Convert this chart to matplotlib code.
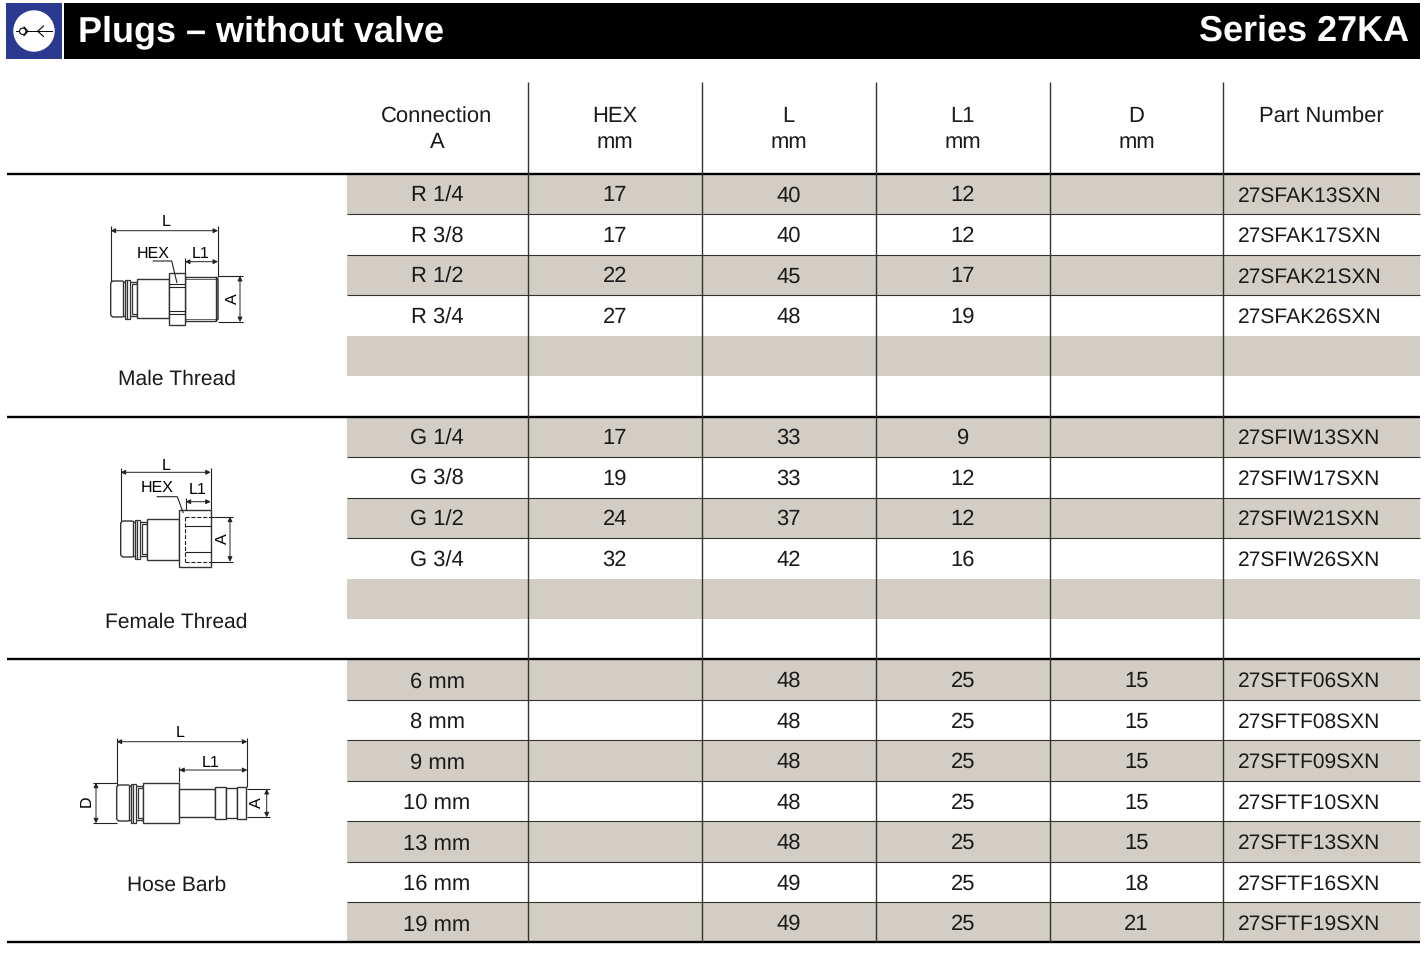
import matplotlib
matplotlib.use('Agg')
import matplotlib.pyplot as plt
from matplotlib.patches import Rectangle, Circle, FancyBboxPatch

plt.rcParams['font.family'] = ['Liberation Sans', 'DejaVu Sans']
plt.rcParams['text.hinting'] = 'no_hinting'
plt.rcParams['text.hinting_factor'] = 1

title = 'Plugs – without valve'
series_name = 'Series 27KA'
headers = ['Connection\nA', 'HEX\nmm', 'L\nmm', 'L1\nmm', 'D\nmm', 'Part Number\n']
sections = ['Male Thread', 'Female Thread', 'Hose Barb']

connection = ['R 1/4', 'R 3/8', 'R 1/2', 'R 3/4', '', '',
              'G 1/4', 'G 3/8', 'G 1/2', 'G 3/4', '', '',
              '6 mm', '8 mm', '9 mm', '10 mm', '13 mm', '16 mm', '19 mm']
hex_mm = ['17', '17', '22', '27', '', '',
          '17', '19', '24', '32', '', '',
          '', '', '', '', '', '', '']
l_mm = ['40', '40', '45', '48', '', '',
        '33', '33', '37', '42', '', '',
        '48', '48', '48', '48', '48', '49', '49']
l1_mm = ['12', '12', '17', '19', '', '',
         '9', '12', '12', '16', '', '',
         '25', '25', '25', '25', '25', '25', '25']
d_mm = ['', '', '', '', '', '',
        '', '', '', '', '', '',
        '15', '15', '15', '15', '15', '18', '21']
part_no = ['27SFAK13SXN', '27SFAK17SXN', '27SFAK21SXN', '27SFAK26SXN', '', '',
           '27SFIW13SXN', '27SFIW17SXN', '27SFIW21SXN', '27SFIW26SXN', '', '',
           '27SFTF06SXN', '27SFTF08SXN', '27SFTF09SXN', '27SFTF10SXN', '27SFTF13SXN', '27SFTF16SXN', '27SFTF19SXN']

# layout in pixels of the page
col_x = [347, 527.8, 701.8, 875.8, 1049.8, 1223, 1420]
row_y = [173.8, 214, 255, 295, 335.8, 376, 416.6,
         456.8, 497.5, 538, 578.5, 619, 659.2,
         699.8, 740.2, 780.8, 821.2, 861.8, 902.2, 942.4]
thick_rows = [0, 6, 12, 19]
GREY = '#d2cec6'
INK = '#1a1a1a'
RULE = '#33332f'
FS = 15.1
FS_WIDE = 15.6

fig = plt.figure(figsize=(14.27, 9.57), dpi=100)
ax = fig.add_axes([0, 0, 1, 1])
ax.set_xlim(0, 1427)
ax.set_ylim(957, 0)
ax.axis('off')

# banner
ax.add_patch(Rectangle((6, 3), 56, 56, fc='#2b3990', ec='none'))
ax.add_patch(Rectangle((63.5, 3), 1356.5, 56, fc='black', ec='none'))
ax.add_patch(Circle((34, 31), 20.7, fc='white', ec='none'))
ax.plot([16, 52], [31.3, 31.3], color='black', lw=0.7)
ax.add_patch(Circle((22.7, 31.3), 3.2, fc='white', ec='black', lw=0.8, zorder=3))
ax.plot([24, 28, 24], [27, 31.3, 35.6], color='black', lw=0.8)
ax.plot([43.5, 37.7, 43.5], [26, 31.3, 36.4], color='black', lw=0.8)
ax.text(78, 41, title, color='white', fontsize=25.6, fontweight='bold', va='baseline', ha='left')
ax.text(1409, 41, series_name, color='white', fontsize=25.8, fontweight='bold', va='baseline', ha='right')

# striped rows
for i in range(len(connection)):
    if i % 2 == 0:
        ax.add_patch(Rectangle((col_x[0], row_y[i]), col_x[-1] - col_x[0], row_y[i + 1] - row_y[i],
                               fc=GREY, ec='none', zorder=0))

# rules between rows
for i, y in enumerate(row_y):
    if i in thick_rows:
        ax.plot([7, 1420], [y, y], color='black', lw=1.7, solid_capstyle='butt', zorder=2)
    elif connection[i] != '' and connection[i - 1] != '':
        ax.plot([col_x[0], 1420], [y, y], color=RULE, lw=0.8, solid_capstyle='butt', zorder=2)

for x in col_x[1:-1]:
    ax.plot([x, x], [82, 942], color=RULE, lw=1.0, solid_capstyle='butt', zorder=2)

# header
centres = [(col_x[i] + col_x[i + 1]) / 2 for i in range(6)]
centres[0] = 437
for c, h in zip(centres, headers):
    top, bottom = h.split('\n')
    ax.text(c, 122.5, top, fontsize=FS_WIDE, ha='center', va='baseline', color=INK)
    if bottom:
        ax.text(c, 148.5, bottom, fontsize=FS_WIDE, ha='center', va='baseline', color=INK)

# table body
for i in range(len(connection)):
    y = (row_y[i] + row_y[i + 1]) / 2 + 7.5
    ax.text(centres[0], y + 0.6, connection[i], fontsize=FS_WIDE, ha='center', va='baseline', color=INK)
    for c, col in zip(centres[1:], [hex_mm, l_mm, l1_mm, d_mm]):
        ax.text(c, y, col[i], fontsize=FS_WIDE, ha='center', va='baseline', color=INK)
    ax.text(1238, y, part_no[i], fontsize=FS, ha='left', va='baseline', color=INK)

for name, y in zip(sections, [384.5, 627.5, 890.5]):
    ax.text(176.5, y, name, fontsize=FS, ha='center', va='baseline', color=INK)


def ln(xs, ys, lw=0.8, color='#222222', ls='-'):
    ax.plot(xs, ys, color=color, lw=lw, ls=ls, solid_capstyle='butt', zorder=4)


def box(x0, x1, y0, y1, lw=1.0):
    ax.add_patch(Rectangle((x0, y0), x1 - x0, y1 - y0, fc='white', ec='#333333', lw=lw, zorder=3))


def dim(x0, y0, x1, y1):
    ax.annotate('', xy=(x0, y0), xytext=(x1, y1), zorder=4,
                arrowprops=dict(arrowstyle='<|-|>', color='#222222', lw=0.7, mutation_scale=7,
                                shrinkA=0, shrinkB=0))


def nose(x0, x1, cy, h):
    # common coupling end: rounded nose, neck and two collars
    ax.add_patch(FancyBboxPatch((x0 + 2, cy - h + 2), 10, 2 * h - 4, boxstyle='round,pad=2,rounding_size=3',
                                fc='white', ec='#333333', lw=1.0, zorder=3))
    box(x0 + 12, x1, cy - h + 1, cy + h - 1)
    box(x0 + 14, x0 + 16.5, cy - h - 1.5, cy + h + 1.5, lw=0.9)
    box(x0 + 16.5, x0 + 19.5, cy - h - 1.5, cy + h + 1.5, lw=0.9)
    box(x0 + 21, x0 + 26, cy - h + 3, cy + h - 3, lw=0.9)


SMALL = 11.5

# male thread
nose(110.7, 137, 299, 18)
box(137, 169, 279, 318)
box(185, 216, 277, 321)
ln([216, 218, 218, 216], [277, 279, 319, 321], lw=1.0)
ln([185, 216], [279, 279], lw=0.5)
ln([185, 216], [319, 319], lw=0.5)
box(169, 185, 273, 325)
ln([169, 185], [284, 284]); ln([169, 185], [287, 287]); ln([169, 185], [311, 311]); ln([169, 185], [314, 314])
ln([110.7, 110.7], [226, 281]); ln([218, 218], [226, 277])
dim(110.7, 230.7, 218, 230.7)
ln([185, 185], [258, 273]); dim(185, 261.7, 218, 261.7)
ln([152.7, 171.7, 177], [261, 261, 283])
ln([218, 243], [276, 276]); ln([218, 243], [322, 322]); dim(240, 276, 240, 322)
ax.text(166.5, 222, 'L', fontsize=SMALL, ha='center', va='center')
ax.text(152.7, 253.5, 'HEX', fontsize=SMALL, ha='center', va='center')
ax.text(201, 253.5, 'L1', fontsize=SMALL, ha='center', va='center')
ax.text(232.5, 299, 'A', fontsize=SMALL, ha='center', va='center', rotation=90)

# female thread
nose(120.7, 147, 539, 18)
box(147, 179, 519, 560)
box(179, 210.7, 510, 567)
ln([185, 210.7], [516.7, 516.7], ls='--'); ln([185, 210.7], [561.7, 561.7], ls='--')
ln([185, 185], [516.7, 561.7], ls='--')
ln([185, 210.7], [526, 526]); ln([185, 210.7], [552, 552])
ln([120.7, 120.7], [468, 521]); ln([210.7, 210.7], [468, 510])
dim(120.7, 472.3, 210.7, 472.3)
ln([185.7, 185.7], [498, 510]); dim(185.7, 501.7, 210.7, 501.7)
ln([156.7, 177.3, 183.3], [496.7, 496.7, 513])
ln([210.7, 233], [516.7, 516.7]); ln([210.7, 233], [561.7, 561.7]); dim(230, 516.7, 230, 561.7)
ax.text(166, 465.5, 'L', fontsize=SMALL, ha='center', va='center')
ax.text(156.7, 488, 'HEX', fontsize=SMALL, ha='center', va='center')
ax.text(198, 490, 'L1', fontsize=SMALL, ha='center', va='center')
ax.text(222.5, 539, 'A', fontsize=SMALL, ha='center', va='center', rotation=90)

# hose barb
nose(116.7, 142.7, 803, 18)
box(142.7, 179.3, 782.7, 823.3)
box(179.3, 215.3, 789, 817.3)
box(215.3, 226, 787, 819)
box(226, 237, 788, 818)
box(237, 246, 787, 819)
ln([116.7, 116.7], [738, 785]); ln([247.3, 247.3], [738, 787])
dim(116.7, 741.7, 247.3, 741.7)
ln([179.3, 179.3], [767, 782]); dim(179.3, 770, 247.3, 770)
ln([93, 117], [782.7, 782.7]); ln([93, 117], [823.3, 823.3]); dim(96, 782.7, 96, 823.3)
ln([247, 270], [789, 789]); ln([247, 270], [817.3, 817.3]); dim(266.7, 789, 266.7, 817.3)
ax.text(180, 733, 'L', fontsize=SMALL, ha='center', va='center')
ax.text(211, 762.5, 'L1', fontsize=SMALL, ha='center', va='center')
ax.text(86.5, 801, 'D', fontsize=SMALL, ha='center', va='center', rotation=90)
ax.text(256.5, 803, 'A', fontsize=SMALL, ha='center', va='center', rotation=90)

fig.savefig('out.png', dpi=100)
